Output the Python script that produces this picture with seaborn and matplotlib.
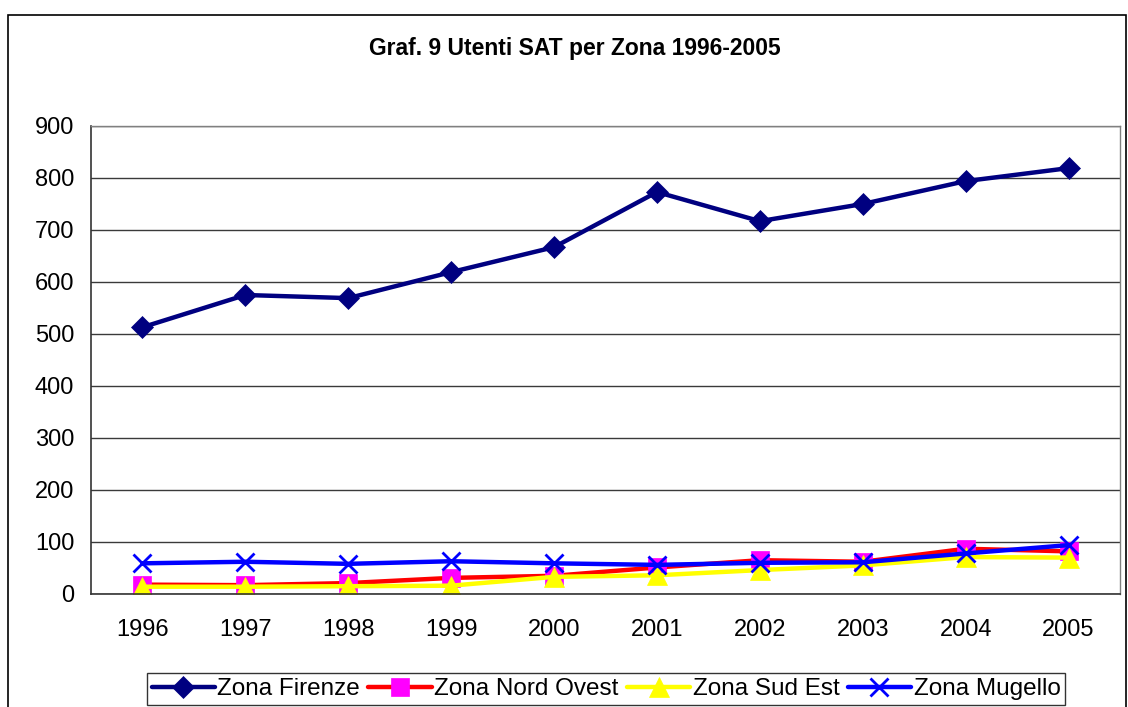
import numpy as np
import pandas as pd
import matplotlib
matplotlib.use("Agg")
import matplotlib.pyplot as plt
from matplotlib.patches import Rectangle
from matplotlib.ticker import FixedLocator
import seaborn as sns

years = ["1996", "1997", "1998", "1999", "2000", "2001", "2002", "2003", "2004", "2005"]
firenze = [513, 575, 569, 619, 667, 773, 717, 750, 794, 819]
nord_ovest = [18, 17, 21, 31, 35, 51, 65, 62, 87, 82]
sud_est = [14, 14, 15, 16, 33, 36, 46, 55, 71, 70]
mugello = [59, 62, 58, 63, 59, 56, 60, 61, 78, 94]

sns.set_theme(style="white")
plt.rcParams["font.family"] = ["Liberation Sans", "DejaVu Sans"]
plt.rcParams.update({"text.color": "black", "xtick.color": "black",
                     "ytick.color": "black", "axes.labelcolor": "black"})

fig = plt.figure(figsize=(11.28, 7.07), dpi=100)
ax = fig.add_axes([91 / 1128, 1 - 594 / 707, (1120 - 91) / 1128, (594 - 126) / 707])

# outer chart frame
fig.patches.append(Rectangle((8 / 1128, -0.05), 1118 / 1128, 1 - 15 / 707 + 0.05,
                             transform=fig.transFigure, fill=False,
                             edgecolor="black", linewidth=1.2))

x = np.arange(len(years))
series = [
    ("Zona Firenze", firenze, "#000080", "D", "#000080", 11),
    ("Zona Nord Ovest", nord_ovest, "#FF0000", "s", "#FF00FF", 13),
    ("Zona Sud Est", sud_est, "#FFFF00", "^", "#FFFF00", 15),
    ("Zona Mugello", mugello, "#0000FF", "x", "#0000FF", 13),
]
for name, vals, lc, mk, mc, ms in series:
    sns.lineplot(x=x, y=vals, ax=ax, color=lc, linewidth=3.2, marker=mk,
                 markersize=ms, markerfacecolor=mc, markeredgecolor=mc,
                 markeredgewidth=2 if mk == "x" else 0.5, label=name)

ax.set_xlim(-0.5, 9.5)
ax.set_ylim(0, 900)
ax.set_yticks(range(0, 901, 100))
ax.set_xticks(x)
ax.set_xticklabels(years)
ax.xaxis.set_minor_locator(FixedLocator(np.arange(-0.5, 10, 1)))
ax.tick_params(axis="x", which="major", length=0, labelsize=17, pad=18)
ax.tick_params(axis="x", which="minor", length=5, width=1, color="#333333", direction="out")
ax.tick_params(axis="y", length=5, width=1, color="#333333", direction="out", labelsize=17, pad=7)
ax.grid(axis="y", color="#3a3a3a", linewidth=1)
ax.set_axisbelow(True)
for side in ["top", "right"]:
    ax.spines[side].set_color("#808080")
    ax.spines[side].set_linewidth(1)
for side in ["left", "bottom"]:
    ax.spines[side].set_color("#333333")
    ax.spines[side].set_linewidth(1.2)

fig.text(575 / 1128, 1 - 48 / 707, "Graf. 9 Utenti SAT per Zona 1996-2005",
         ha="center", va="center", fontsize=16.5, fontweight="bold")

leg = ax.legend(loc="center", bbox_to_anchor=(606 / 1128, 1 - 689 / 707),
                bbox_transform=fig.transFigure, ncol=4, frameon=True, fancybox=False,
                fontsize=17.5, handlelength=2.6, handletextpad=0.1, columnspacing=0.35,
                borderpad=0.2, borderaxespad=0)
leg.get_frame().set_edgecolor("black")
leg.get_frame().set_linewidth(1)

fig.savefig("out.png", dpi=100)
